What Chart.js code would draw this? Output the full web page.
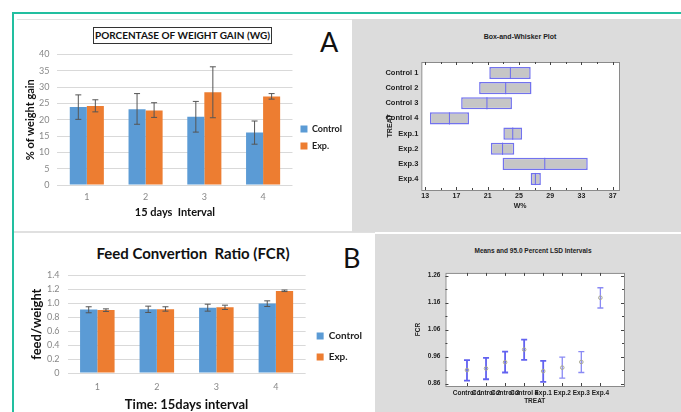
<!DOCTYPE html>
<html>
<head>
<meta charset="utf-8">
<script src="https://cdn.jsdelivr.net/npm/chart.js@4.4.1/dist/chart.umd.min.js"></script>
<style>
  body { margin: 0; background: #fff; }
  #page { position: relative; width: 681px; height: 412px; overflow: hidden; background: #fff; }
  .abs { position: absolute; }
  canvas { position: absolute; }
  .xl { font-family: Lato, "Open Sans", sans-serif; color: #111; white-space: pre; }
  .sg { font-family: "Liberation Sans", Arial, sans-serif; font-weight: bold; color: #222; white-space: pre; }
</style>
</head>
<body>
<div id="page">
  <!-- frame lines -->
  <div class="abs" style="left:12px;top:12px;width:669px;height:2px;background:#22bfa0"></div>
  <div class="abs" style="left:12px;top:12px;width:2px;height:400px;background:#22bfa0"></div>
  <div class="abs" style="left:17px;top:19px;width:335px;height:1px;background:#e2e2e2"></div>
  <div class="abs" style="left:14px;top:231px;width:361px;height:2px;background:#e0e0e0"></div>
  <div class="abs" style="left:352px;top:19px;width:329px;height:213px;background:#dcdcdc"></div>
  <div class="abs" style="left:375px;top:234px;width:306px;height:178px;background:#dcdcdc"></div>

  <!-- titles -->
  <div class="abs xl" style="left:93px;top:27px;width:177px;height:15px;border:1px solid #333;font-weight:bold;font-size:10px;line-height:15px;text-align:center">PORCENTASE OF WEIGHT GAIN (WG)</div>
  <div class="abs xl" style="left:320px;top:27px;font-size:27px;line-height:30px">A</div>
  <div class="abs xl" style="left:60px;top:243px;width:266px;text-align:center;font-weight:bold;font-size:15px;line-height:20px">Feed Convertion  Ratio (FCR)</div>
  <div class="abs xl" style="left:343px;top:243px;font-size:27px;line-height:30px">B</div>
  <div class="abs sg" style="left:420px;top:33px;width:200px;text-align:center;font-size:7px">Box-and-Whisker Plot</div>
  <div class="abs sg" style="left:433px;top:247px;width:200px;text-align:center;font-size:6.5px">Means and 95.0 Percent LSD Intervals</div>

  <canvas id="chart-wg" width="338" height="178" style="left:14px;top:41px"></canvas>
  <canvas id="chart-fcr" width="358" height="151" style="left:14px;top:262px"></canvas>
  <canvas id="chart-box" width="245" height="160" style="left:380px;top:50px"></canvas>
  <canvas id="chart-lsd" width="230" height="141" style="left:400px;top:264px"></canvas>
</div>

<script>
"use strict";

/* ---------- data: weight gain (A, left) ---------- */
const intervals = ["1", "2", "3", "4"];
const wgControl = [23.9, 23.2, 20.9, 16.1];
const wgControlLow = [20.1, 18.6, 16.2, 12.5];
const wgControlHigh = [27.6, 28.0, 25.6, 19.6];
const wgExp = [24.2, 22.8, 28.4, 27.1];
const wgExpLow = [22.4, 20.7, 20.6, 26.3];
const wgExpHigh = [26.1, 25.2, 36.2, 28.0];

/* ---------- data: box-and-whisker (A, right) ---------- */
const treatments = ["Control 1", "Control 2", "Control 3", "Control 4", "Exp.1", "Exp.2", "Exp.3", "Exp.4"];
const boxLow = [21.2, 19.9, 17.6, 13.6, 23.0, 21.4, 22.9, 26.5];
const boxHigh = [26.5, 26.6, 24.1, 18.6, 25.4, 24.4, 33.8, 27.8];
const boxMedian = [23.9, 23.3, 20.9, 16.1, 24.2, 22.9, 28.3, 27.1];
const boxTicks = [13, 17, 21, 25, 29, 33, 37];

/* ---------- data: FCR (B, left) ---------- */
const fcrControl = [0.911, 0.916, 0.935, 0.997];
const fcrControlLow = [0.864, 0.868, 0.887, 0.954];
const fcrControlHigh = [0.950, 0.959, 0.987, 1.035];
const fcrExp = [0.902, 0.916, 0.944, 1.177];
const fcrExpLow = [0.883, 0.887, 0.911, 1.168];
const fcrExpHigh = [0.920, 0.950, 0.973, 1.190];

/* ---------- data: LSD intervals (B, right) ---------- */
const lsdMean = [0.910, 0.916, 0.939, 0.986, 0.906, 0.919, 0.940, 1.178];
const lsdLow = [0.871, 0.876, 0.901, 0.948, 0.866, 0.880, 0.901, 1.140];
const lsdHigh = [0.947, 0.955, 0.978, 1.023, 0.944, 0.958, 0.978, 1.215];
const lsdTicks = [0.86, 0.96, 1.06, 1.16, 1.26];

const BLUE = "#5b9bd5";
const ORANGE = "#ed7d31";
const XL_FONT = "Lato, 'Open Sans', sans-serif";
const SG_FONT = "'Liberation Sans', Arial, sans-serif";

/* error bars drawn on top of bars, using the y scale */
const errorBars = {
  id: "errorBars",
  afterDatasetsDraw(chart) {
    const { ctx } = chart;
    const y = chart.scales.y;
    chart.data.datasets.forEach((ds, di) => {
      if (!ds.errLow) return;
      const meta = chart.getDatasetMeta(di);
      meta.data.forEach((bar, i) => {
        const top = y.getPixelForValue(ds.errHigh[i]);
        const bot = y.getPixelForValue(ds.errLow[i]);
        ctx.save();
        ctx.strokeStyle = "#555";
        ctx.lineWidth = 1;
        ctx.beginPath();
        ctx.moveTo(bar.x, top); ctx.lineTo(bar.x, bot);
        ctx.moveTo(bar.x - 3, top); ctx.lineTo(bar.x + 3, top);
        ctx.moveTo(bar.x - 3, bot); ctx.lineTo(bar.x + 3, bot);
        ctx.stroke();
        ctx.restore();
      });
    });
  }
};

/* white plot frame for the statgraphics panels */
const plotFrame = {
  id: "plotFrame",
  beforeDraw(chart, args, opts) {
    const { ctx, chartArea: a } = chart;
    const py = opts.padY || 0;
    ctx.save();
    ctx.fillStyle = "#fff";
    ctx.fillRect(a.left, a.top - py, a.right - a.left, a.bottom - a.top + 2 * py);
    ctx.strokeStyle = "#8a8a8a";
    ctx.lineWidth = 1;
    ctx.strokeRect(a.left + 0.5, a.top - py + 0.5, a.right - a.left, a.bottom - a.top + 2 * py);
    ctx.restore();
  },
  // inward tick marks on all sides, majors at the scale ticks, minors halfway
  afterDraw(chart, args, opts) {
    const { ctx, chartArea: a } = chart;
    const py = opts.padY || 0;
    const top = a.top - py, bot = a.bottom + py;
    ctx.save();
    ctx.strokeStyle = "#444";
    ctx.lineWidth = 1;
    ctx.beginPath();
    const marks = (scale, minor) => {
      const vals = scale.ticks.map(t => t.value);
      const out = vals.map(v => ({ v, len: 3 }));
      if (minor) vals.slice(1).forEach((v, i) => out.push({ v: (v + vals[i]) / 2, len: 2 }));
      return out;
    };
    if (opts.xTicks) {
      marks(chart.scales.x, opts.xMinor).forEach(({ v, len }) => {
        const px = Math.round(chart.scales.x.getPixelForValue(v)) + 0.5;
        ctx.moveTo(px, top); ctx.lineTo(px, top + len);
        ctx.moveTo(px, bot); ctx.lineTo(px, bot - len);
      });
    }
    if (opts.yTicks) {
      marks(chart.scales.y, opts.yMinor).forEach(({ v, len }) => {
        const py2 = Math.round(chart.scales.y.getPixelForValue(v)) + 0.5;
        ctx.moveTo(a.left, py2); ctx.lineTo(a.left + len, py2);
        ctx.moveTo(a.right, py2); ctx.lineTo(a.right - len, py2);
      });
    }
    ctx.stroke();
    ctx.restore();
  }
};

/* medians inside the boxes */
const medians = {
  id: "medians",
  afterDatasetsDraw(chart) {
    const { ctx } = chart;
    const x = chart.scales.x;
    const meta = chart.getDatasetMeta(0);
    meta.data.forEach((bar, i) => {
      const px = x.getPixelForValue(boxMedian[i]);
      const h = bar.height / 2;
      ctx.save();
      ctx.strokeStyle = "#6a6af0";
      ctx.lineWidth = 1;
      ctx.beginPath();
      ctx.moveTo(px, bar.y - h); ctx.lineTo(px, bar.y + h);
      ctx.stroke();
      ctx.restore();
    });
  }
};

/* LSD interval whiskers */
const lsdBars = {
  id: "lsdBars",
  beforeDatasetsDraw(chart) {
    const { ctx } = chart;
    const x = chart.scales.x, y = chart.scales.y;
    lsdMean.forEach((m, i) => {
      const px = x.getPixelForValue(i);
      const top = y.getPixelForValue(lsdHigh[i]);
      const bot = y.getPixelForValue(lsdLow[i]);
      ctx.save();
      ctx.strokeStyle = i < 5 ? "#6262f0" : "#8a8af4";
      ctx.lineWidth = i < 5 ? 1.8 : 1.3;
      ctx.beginPath();
      ctx.moveTo(px, top); ctx.lineTo(px, bot);
      ctx.moveTo(px - 3, top); ctx.lineTo(px + 3, top);
      ctx.moveTo(px - 3, bot); ctx.lineTo(px + 3, bot);
      ctx.stroke();
      ctx.restore();
    });
  }
};

function excelBarChart(id, cfg) {
  const el = document.getElementById(id);
  return new Chart(el, {
    type: "bar",
    data: {
      labels: intervals,
      datasets: [
        { label: "Control", data: cfg.ctrl, errLow: cfg.ctrlLow, errHigh: cfg.ctrlHigh, backgroundColor: BLUE },
        { label: "Exp.", data: cfg.exp, errLow: cfg.expLow, errHigh: cfg.expHigh, backgroundColor: ORANGE },
      ],
    },
    options: {
      responsive: false,
      animation: false,
      datasets: { bar: { barPercentage: 1, categoryPercentage: 0.58 } },
      plugins: {
        legend: {
          display: true, position: "right",
          title: { display: true, text: "", padding: cfg.legendShift, font: { size: 10 } },
          labels: { boxWidth: 7, boxHeight: 7, padding: cfg.legendPad, color: "#222", font: { family: XL_FONT, weight: "bold", size: cfg.legendFont } },
        },
        tooltip: { enabled: false },
      },
      scales: {
        x: {
          grid: { display: false, drawTicks: false },
          border: { display: false },
          ticks: { color: "#888", padding: cfg.xTickPad, font: { family: XL_FONT, size: 9 } },
          title: { display: true, text: cfg.xTitle, color: "#111", font: { family: XL_FONT, weight: "bold", size: cfg.titleFont }, padding: { top: cfg.xTitlePad, bottom: 0 } },
        },
        y: {
          min: 0, max: cfg.max,
          grid: { color: "#d9d9d9", drawTicks: false },
          border: { display: false },
          ticks: { stepSize: cfg.step, autoSkip: false, padding: 8, color: "#888", font: { family: XL_FONT, size: 9 } },
          title: { display: true, text: cfg.yTitle, color: "#111", font: { family: XL_FONT, weight: "bold", size: cfg.titleFont }, padding: cfg.yTitlePad },
        },
      },
    },
    plugins: [errorBars],
  });
}

excelBarChart("chart-wg", {
  ctrl: wgControl, ctrlLow: wgControlLow, ctrlHigh: wgControlHigh,
  exp: wgExp, expLow: wgExpLow, expHigh: wgExpHigh,
  max: 40, step: 5, xTitle: "15 days  Interval", yTitle: "% of weight gain",
  titleFont: 11, legendFont: 9, legendPad: 8, legendShift: 1.5,
  xTickPad: 6.6, xTitlePad: -3.2, yTitlePad: { top: 9.4, bottom: -5.6 },
});

excelBarChart("chart-fcr", {
  ctrl: fcrControl, ctrlLow: fcrControlLow, ctrlHigh: fcrControlHigh,
  exp: fcrExp, expLow: fcrExpLow, expHigh: fcrExpHigh,
  max: 1.4, step: 0.2, xTitle: "Time: 15days interval", yTitle: "feed/weight",
  titleFont: 13, legendFont: 10, legendPad: 11, legendShift: 3,
  xTickPad: 8.6, xTitlePad: -3.6, yTitlePad: { top: 15.2, bottom: -5.8 },
});

/* ---------- box-and-whisker ---------- */
new Chart(document.getElementById("chart-box"), {
  type: "bar",
  data: {
    labels: treatments,
    datasets: [{
      data: treatments.map((t, i) => [boxLow[i], boxHigh[i]]),
      backgroundColor: "#c6c6c6",
      borderColor: "#7272ee",
      borderWidth: 1.5,
      borderSkipped: false,
      barPercentage: 0.8,
      categoryPercentage: 1,
    }],
  },
  options: {
    indexAxis: "y",
    responsive: false,
    animation: false,
    layout: { padding: { top: 15.4, bottom: 0, right: 6, left: 0 } },
    plugins: {
      legend: { display: false }, tooltip: { enabled: false },
      plotFrame: { padY: 3.4, xTicks: true, xMinor: true },
    },
    scales: {
      x: {
        min: 12.5, max: 37.8,
        afterBuildTicks: (axis) => { axis.ticks = boxTicks.map(v => ({ value: v })); },
        grid: { display: false, drawTicks: false },
        border: { display: false },
        ticks: { color: "#222", padding: 5.2, font: { family: SG_FONT, weight: "bold", size: 7 } },
        title: { display: true, text: "W%", color: "#222", padding: { top: -3.8, bottom: 0 }, font: { family: SG_FONT, weight: "bold", size: 7 } },
      },
      y: {
        grid: { display: false, drawTicks: false },
        border: { display: false },
        ticks: { color: "#222", padding: 3, font: { family: SG_FONT, weight: "bold", size: 7.5 } },
        title: { display: true, text: "TREAT", color: "#222", padding: { top: 6, bottom: -12 }, font: { family: SG_FONT, weight: "bold", size: 7 } },
      },
    },
  },
  plugins: [plotFrame, medians],
});

/* ---------- LSD intervals ---------- */
new Chart(document.getElementById("chart-lsd"), {
  type: "scatter",
  data: {
    datasets: [{
      data: lsdMean.map((m, i) => ({ x: i, y: m })),
      pointRadius: 1.8,
      backgroundColor: "rgba(0,0,0,0)",
      borderColor: "#a8a890",
      borderWidth: 1,
    }],
  },
  options: {
    responsive: false,
    animation: false,
    layout: { padding: { top: 0, right: 6 } },
    plugins: {
      legend: { display: false }, tooltip: { enabled: false },
      plotFrame: { padY: 0, xTicks: true, yTicks: true, yMinor: true },
    },
    scales: {
      x: {
        type: "linear", min: -1.13, max: 8.24,
        afterBuildTicks: (axis) => { axis.ticks = treatments.map((t, i) => ({ value: i })); },
        grid: { display: false, drawTicks: false },
        border: { display: false },
        ticks: { autoSkip: false, maxRotation: 0, color: "#222", padding: 3.1, callback: (v) => treatments[v], font: { family: SG_FONT, weight: "bold", size: 6.5 } },
        title: { display: true, text: "TREAT", color: "#222", padding: { top: -2.8, bottom: 0 }, font: { family: SG_FONT, weight: "bold", size: 6.5 } },
      },
      y: {
        min: 0.851, max: 1.27,
        afterBuildTicks: (axis) => { axis.ticks = lsdTicks.map(v => ({ value: v })); },
        grid: { display: false, drawTicks: false },
        border: { display: false },
        ticks: { color: "#222", padding: 5, callback: (v) => Number(v).toFixed(2), font: { family: SG_FONT, weight: "bold", size: 6.5 } },
        title: { display: true, text: "FCR", color: "#222", padding: { top: 14, bottom: 1 }, font: { family: SG_FONT, weight: "bold", size: 6.5 } },
      },
    },
  },
  plugins: [plotFrame, lsdBars],
});
</script>
</body>
</html>
